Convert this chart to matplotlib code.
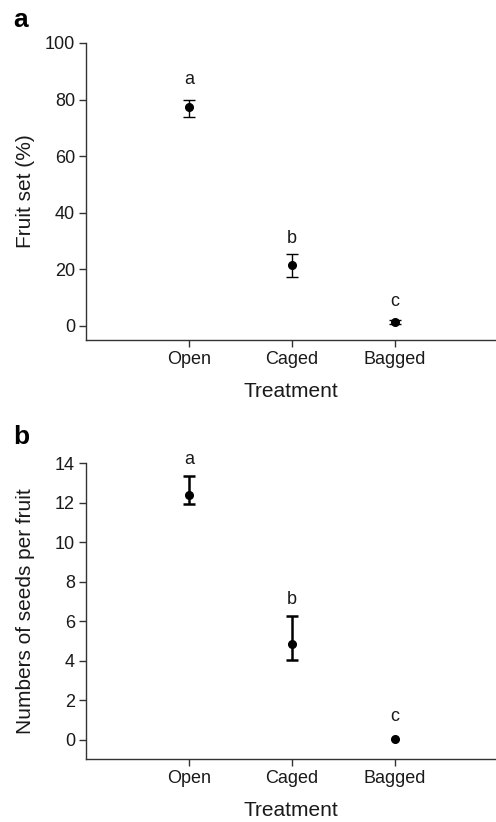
import matplotlib.pyplot as plt

plt.rcParams['font.family'] = ['Liberation Sans', 'DejaVu Sans']

# data
treatments = ["Open", "Caged", "Bagged"]
fruit_set = [77.5, 21.4, 1.3]
fruit_lo = [74.0, 17.2, 0.6]
fruit_hi = [80.0, 25.3, 2.0]
fruit_letters = ["a", "b", "c"]
fruit_letter_y = [87.0, 31.0, 8.5]

seeds = [12.4, 4.86, 0.05]
seeds_lo = [11.93, 4.03, 0.05]
seeds_hi = [13.37, 6.24, 0.05]
seed_letters = ["a", "b", "c"]
seed_letter_y = [14.17, 7.12, 1.18]

W, H = 496, 822
fig = plt.figure(figsize=(W / 100, H / 100), dpi=100)

ink = "#1a1a1a"


def panel(rect, vals, lo, hi, letters, letter_y, ylim, yticks, ylabel, tag, elw):
    ax = fig.add_axes(rect)
    x = [1, 2, 3]
    # error bars only where there is a spread
    idx = [i for i in range(3) if hi[i] > lo[i]]
    ax.errorbar([x[i] for i in idx], [vals[i] for i in idx],
                yerr=[[vals[i] - lo[i] for i in idx], [hi[i] - vals[i] for i in idx]],
                fmt="none", ecolor="black", elinewidth=elw, capsize=4, capthick=elw)
    ax.plot(x, vals, "o", color="black", ms=5.5)
    for xi, t, ty in zip(x, letters, letter_y):
        ax.text(xi, ty, t, ha="center", va="center", fontsize=13, color=ink)
    ax.set_xlim(0, (W - 86) / 103)
    ax.set_ylim(*ylim)
    ax.set_xticks(x)
    ax.set_xticklabels(treatments)
    ax.set_yticks(yticks)
    for s in ["top", "right"]:
        ax.spines[s].set_visible(False)
    for s in ["left", "bottom"]:
        ax.spines[s].set_color("#333333")
        ax.spines[s].set_linewidth(1.0)
    ax.spines["left"].set_bounds(ylim[0], yticks[-1])
    ax.tick_params(labelsize=13, colors="#333333", labelcolor=ink, length=5, width=1.0, pad=3)
    ax.set_xlabel("Treatment", fontsize=15, color=ink, labelpad=10)
    ax.set_ylabel(ylabel, fontsize=15, color=ink)
    ax.yaxis.set_label_coords((35 - 86) / (W - 86), 0.5)
    fig.text(13 / W, tag[1], tag[0], fontsize=19, fontweight="bold", va="center", ha="left")
    return ax


left = 86 / W
width = (W - 86) / W
panel([left, 1 - 340 / H, width, (340 - 43) / H], fruit_set, fruit_lo, fruit_hi,
      fruit_letters, fruit_letter_y, (-5, 100), [0, 20, 40, 60, 80, 100],
      "Fruit set (%)", ("a", 1 - 20 / H), 1.0)
panel([left, 1 - 759.3 / H, width, (759.3 - 463.3) / H], seeds, seeds_lo, seeds_hi,
      seed_letters, seed_letter_y, (-1, 14), [0, 2, 4, 6, 8, 10, 12, 14],
      "Numbers of seeds per fruit", ("b", 1 - 437 / H), 1.8)

fig.savefig("out.png", dpi=100)
